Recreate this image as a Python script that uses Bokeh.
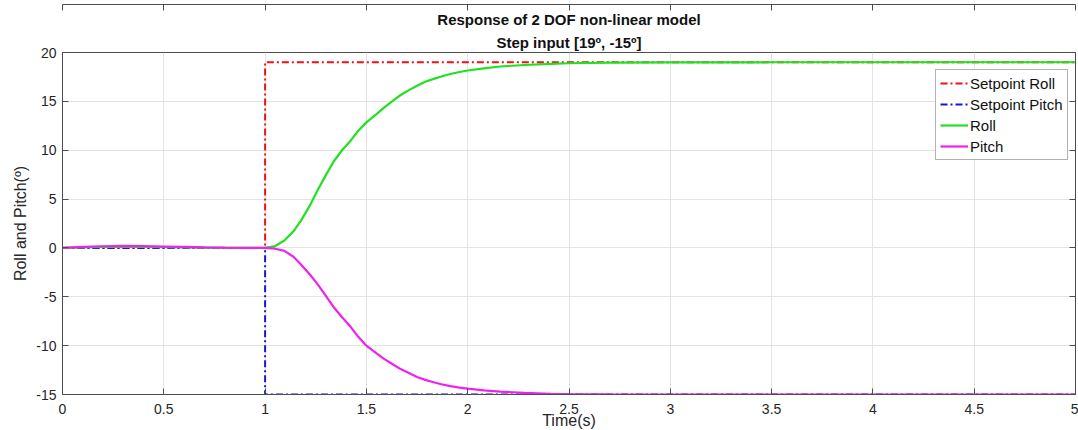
from bokeh.plotting import figure
from bokeh.models import (Legend, LegendItem, FixedTicker, LinearAxis, Title, Range1d)
from bokeh.embed import file_html
from bokeh.resources import INLINE

# ---- data ----
t_set = [0.0, 1.0, 1.0, 5.0]
setpoint_roll = [0.0, 0.0, 19.0, 19.0]
setpoint_pitch = [0.0, 0.0, -15.0, -15.0]

t_resp = [0.0, 0.1, 0.2, 0.3, 0.4, 0.5, 0.6, 0.7, 0.8, 0.9, 1.0,
          1.05, 1.095, 1.14, 1.177, 1.22, 1.259, 1.30, 1.34, 1.38, 1.423, 1.46, 1.50,
          1.55, 1.587, 1.63, 1.669, 1.71, 1.75, 1.79, 1.832, 1.87, 1.914, 1.96, 2.0,
          2.08, 2.16, 2.28, 2.41, 2.5, 2.7, 3.0, 3.5, 4.0, 4.5, 5.0]
roll = [0.0, 0.05, 0.1, 0.12, 0.11, 0.09, 0.06, 0.04, 0.02, 0.01, 0.0,
        0.2, 0.76, 1.7, 2.8, 4.3, 5.9, 7.45, 8.9, 10.0, 11.0, 12.0, 12.85,
        13.7, 14.35, 15.05, 15.65, 16.15, 16.6, 17.0, 17.3, 17.55, 17.8, 18.0, 18.16,
        18.38, 18.57, 18.72, 18.84, 18.9, 18.96, 18.99, 19.0, 19.0, 19.0, 19.0]
pitch = [0.0, 0.1, 0.17, 0.2, 0.18, 0.14, 0.1, 0.06, 0.03, 0.01, 0.0,
         -0.08, -0.3, -0.9, -1.7, -2.7, -3.7, -4.9, -6.1, -7.1, -8.1, -9.1, -10.0,
         -10.8, -11.35, -11.9, -12.4, -12.8, -13.2, -13.5, -13.75, -13.95, -14.15, -14.3, -14.4,
         -14.57, -14.7, -14.83, -14.93, -14.96, -14.99, -15.0, -15.0, -15.0, -15.0, -15.0]

x_ticks = [0, 0.5, 1, 1.5, 2, 2.5, 3, 3.5, 4, 4.5, 5]
x_tick_labels = ["0", "0.5", "1", "1.5", "2", "2.5", "3", "3.5", "4", "4.5", "5"]
y_ticks = [-15, -10, -5, 0, 5, 10, 15, 20]
y_tick_labels = ["-15", "-10", "-5", "0", "5", "10", "15", "20"]

title_line1 = "Response of 2 DOF non-linear model"
title_line2 = "Step input [19º, -15º]"

FONT = "Liberation Sans"
AX_COL = "#4d4d4d"
TXT_COL = "#262626"
GRID_COL = "#e3e3e3"

p = figure(frame_width=1013, frame_height=342, output_backend="svg", toolbar_location=None,
           x_range=Range1d(0, 5), y_range=Range1d(-15, 20),
           min_border_left=62, min_border_right=3, min_border_top=52, min_border_bottom=36,
           x_axis_label="Time(s)", y_axis_label="Roll and Pitch(º)")
p.title = None
p.outline_line_color = AX_COL
p.outline_line_width = 1

p.add_layout(Title(text=title_line2, text_font=FONT, text_font_size="15px", text_font_style="bold",
                   align="center", vertical_align="middle", text_color="#111111",
                   offset=0, standoff=2), "above")
p.add_layout(Title(text=title_line1, text_font=FONT, text_font_size="15px", text_font_style="bold",
                   align="center", text_color="#111111", offset=0, standoff=8), "above")

p.xaxis.ticker = FixedTicker(ticks=x_ticks)
p.xaxis.major_label_overrides = {v: s for v, s in zip(x_ticks, x_tick_labels)}
p.yaxis.ticker = FixedTicker(ticks=y_ticks)
p.yaxis.major_label_overrides = {v: s for v, s in zip(y_ticks, y_tick_labels)}
for ax in (p.xaxis, p.yaxis):
    ax.axis_line_color = AX_COL
    ax.major_tick_line_color = AX_COL
    ax.major_tick_in = 6
    ax.major_tick_out = 0
    ax.minor_tick_line_color = None
    ax.major_label_text_font = FONT
    ax.major_label_text_font_size = "14px"
    ax.major_label_text_color = TXT_COL
    ax.axis_label_text_font = FONT
    ax.axis_label_text_font_size = "16px"
    ax.axis_label_text_font_style = "normal"
    ax.axis_label_text_color = TXT_COL
p.xaxis.major_label_standoff = 9
p.xaxis.axis_label_standoff = -5
p.yaxis.major_label_standoff = 6
p.yaxis.axis_label_standoff = 4

top = LinearAxis(ticker=FixedTicker(ticks=x_ticks), major_label_text_font_size="1px",
                 major_label_text_color=None,
                 major_tick_in=6, major_tick_out=0, minor_tick_line_color=None,
                 axis_line_color=AX_COL, major_tick_line_color=AX_COL, major_label_standoff=0)
right = LinearAxis(ticker=FixedTicker(ticks=y_ticks), major_label_text_font_size="1px",
                   major_label_text_color=None,
                   major_tick_in=6, major_tick_out=0, minor_tick_line_color=None,
                   axis_line_color=AX_COL, major_tick_line_color=AX_COL, major_label_standoff=0)
p.add_layout(top, "above")
p.add_layout(right, "right")

p.grid.grid_line_color = GRID_COL
p.grid.grid_line_width = 1

r1 = p.line(t_set, setpoint_roll, line_color="#ee1111", line_width=2, line_dash="7 3 2 3")
r2 = p.line(t_set, setpoint_pitch, line_color="#1515dd", line_width=2, line_dash="7 3 2 3")
r3 = p.line(t_resp, roll, line_color="#22e022", line_width=2.2)
r4 = p.line(t_resp, pitch, line_color="#ee22ee", line_width=2.2)

legend = Legend(items=[LegendItem(label="Setpoint Roll", renderers=[r1]),
                       LegendItem(label="Setpoint Pitch", renderers=[r2]),
                       LegendItem(label="Roll", renderers=[r3]),
                       LegendItem(label="Pitch", renderers=[r4])],
                location=(873, 234), label_text_font=FONT, label_text_font_size="15px",
                label_text_color="#111111", glyph_width=28, glyph_height=18, label_height=18,
                spacing=3, padding=4, margin=0, label_standoff=2,
                border_line_color="#666666", border_line_width=1,
                background_fill_color="white", background_fill_alpha=1)
p.add_layout(legend, "center")

open("out.html", "w").write(file_html(p, INLINE))
